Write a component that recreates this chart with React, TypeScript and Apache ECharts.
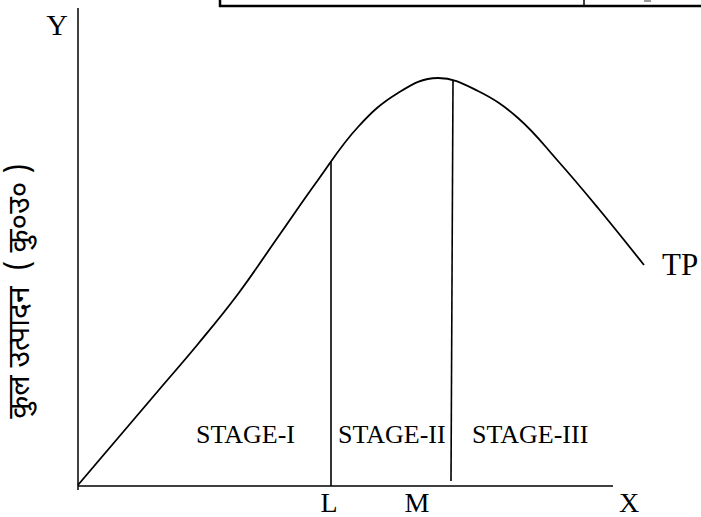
import React, { useEffect, useRef } from "react";
import * as echarts from "echarts";

// Total product curve (TP) (x = input, y = output)
const tpX = [0, 40, 80, 120, 160, 200, 240, 280, 320, 360, 400, 440, 480, 520, 566];
const tpY = [1, 48, 95, 142, 192, 249, 306, 359, 393, 408, 395, 368, 325, 278, 221];

// Stage boundaries
const lineL: [number, number][] = [[253, 0], [253, 325]];
const lineM: [number, number][] = [[373, 5], [375, 405]];

// Axes
const axisYLine: [number, number][] = [[0, -4], [0, 478]];
const axisXLine: [number, number][] = [[0, 0], [535, 0]];

const stageLabels = ["STAGE-I", "STAGE-II", "STAGE-III"];
const pointLabels = ["L", "M", "X"];
const yTitle = "कुल उत्पादन  ( कु०उ० )";
const curveName = "TP";

export default function App() {
  const ref = useRef<HTMLDivElement>(null);
  useEffect(() => {
    if (!ref.current) return;
    const chart = echarts.init(ref.current, null, { renderer: "svg" });
    const serif = "'Liberation Serif', 'Times New Roman', serif";
    const black = "#000";
    const lineSeries = (data: [number, number][], width: number) => ({
      type: "line",
      data,
      symbol: "none",
      silent: true,
      lineStyle: { color: black, width },
    });
    chart.setOption({
      animation: false,
      backgroundColor: "#fff",
      grid: { left: 78, top: 8, width: 600, height: 509 },
      xAxis: { type: "value", min: 0, max: 600, show: false },
      yAxis: { type: "value", min: -31, max: 478, show: false },
      series: [
        lineSeries(axisYLine, 1.5),
        lineSeries(axisXLine, 1.5),
        {
          type: "line",
          name: curveName,
          data: tpX.map((x, i) => [x, tpY[i]]),
          symbol: "none",
          smooth: 0.4,
          silent: true,
          lineStyle: { color: black, width: 1.8 },
        },
        lineSeries(lineL, 1.6),
        lineSeries(lineM, 1.6),
      ],
      graphic: [
        // table fragment at the top
        { type: "line", shape: { x1: 220, y1: 0, x2: 220, y2: 7 }, style: { stroke: black, lineWidth: 2.5 } },
        { type: "line", shape: { x1: 219, y1: 6, x2: 701, y2: 6 }, style: { stroke: black, lineWidth: 2.5 } },
        { type: "line", shape: { x1: 584, y1: 0, x2: 584, y2: 6 }, style: { stroke: black, lineWidth: 1.5 } },
        { type: "rect", shape: { x: 644, y: 0, width: 7, height: 2 }, style: { fill: "#999" } },
        // axis titles
        { type: "text", x: 57, y: 24, style: { text: "Y", font: `30px ${serif}`, fill: black, align: "center", verticalAlign: "middle" } },
        { type: "text", x: 329, y: 502, style: { text: pointLabels[0], font: `28px ${serif}`, fill: black, align: "center", verticalAlign: "middle" } },
        { type: "text", x: 417, y: 502, style: { text: pointLabels[1], font: `28px ${serif}`, fill: black, align: "center", verticalAlign: "middle" } },
        { type: "text", x: 629, y: 502, style: { text: pointLabels[2], font: `28px ${serif}`, fill: black, align: "center", verticalAlign: "middle" } },
        { type: "text", x: 662, y: 264, style: { text: curveName, font: `31px ${serif}`, fill: black, align: "left", verticalAlign: "middle" } },
        { type: "text", x: 196, y: 434, style: { text: stageLabels[0], font: `26px ${serif}`, fill: black, align: "left", verticalAlign: "middle" } },
        { type: "text", x: 338, y: 434, style: { text: stageLabels[1], font: `26px ${serif}`, fill: black, align: "left", verticalAlign: "middle" } },
        { type: "text", x: 472, y: 434, style: { text: stageLabels[2], font: `26px ${serif}`, fill: black, align: "left", verticalAlign: "middle" } },
        {
          type: "text",
          x: 21,
          y: 291,
          rotation: Math.PI / 2,
          style: {
            text: yTitle,
            font: `30px 'Noto Sans Devanagari', 'Lohit Devanagari', 'Noto Sans', sans-serif`,
            fill: black,
            align: "center",
            verticalAlign: "middle",
          },
        },
      ],
    });
    return () => chart.dispose();
  }, []);
  return (
    <div
      ref={ref}
      style={{ position: "absolute", left: 0, top: 0, width: 701, height: 517, background: "#fff" }}
    />
  );
}
